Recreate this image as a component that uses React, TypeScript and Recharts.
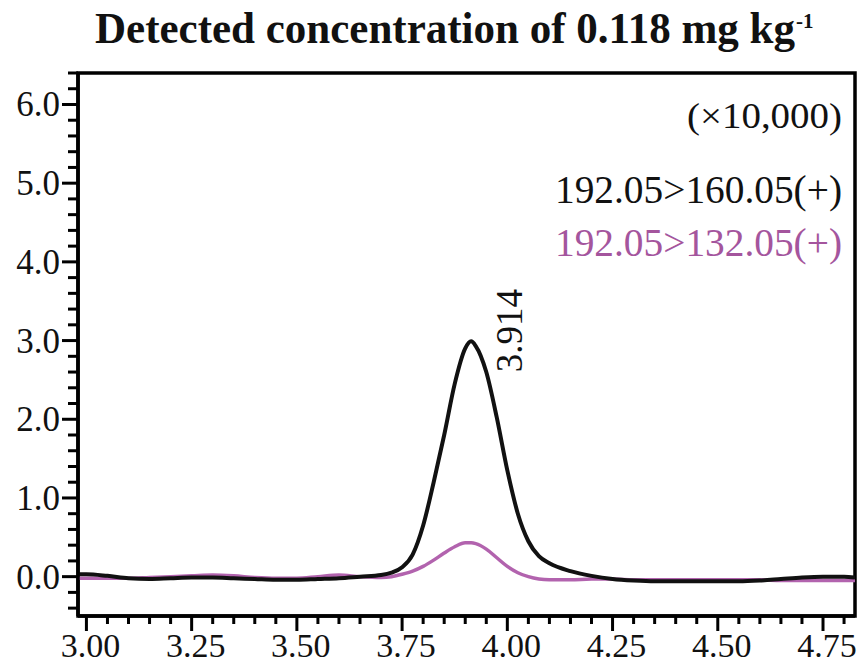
import React from "react";
import { LineChart, Line, XAxis, YAxis, ReferenceArea, ReferenceDot } from "recharts";

// Retention time (min)
const retentionTime = [
  2.98, 3.0, 3.05, 3.1, 3.15, 3.2, 3.25, 3.3, 3.35, 3.4, 3.45, 3.5, 3.55, 3.6, 3.65, 3.7,
  3.725, 3.75, 3.775, 3.8, 3.825, 3.85, 3.875, 3.9, 3.914, 3.925, 3.95, 3.975, 4.0, 4.025,
  4.05, 4.075, 4.1, 4.15, 4.2, 4.25, 4.3, 4.35, 4.4, 4.45, 4.5, 4.55, 4.6, 4.65, 4.7, 4.75,
  4.8, 4.826,
];

// 192.05>160.05(+) intensity (x10,000)
const quantIon = [
  0.03, 0.03, 0.01, -0.02, -0.03, -0.02, -0.01, -0.01, -0.02, -0.03, -0.04, -0.04, -0.03, -0.02, 0.0, 0.02,
  0.05, 0.12, 0.28, 0.65, 1.2, 1.8, 2.45, 2.9, 2.99, 2.93, 2.6, 2.02, 1.35, 0.8,
  0.45, 0.26, 0.17, 0.07, 0.01, -0.03, -0.05, -0.06, -0.06, -0.06, -0.06, -0.06, -0.05, -0.03, -0.01, 0.0,
  0.0, -0.01,
];

// 192.05>132.05(+) intensity (x10,000)
const qualIon = [
  -0.02, -0.02, -0.02, -0.02, -0.01, 0.0, 0.01, 0.02, 0.01, -0.01, -0.02, -0.02, 0.0, 0.02, 0.0, -0.01,
  0.0, 0.03, 0.07, 0.13, 0.21, 0.3, 0.38, 0.43, 0.43, 0.42, 0.35, 0.24, 0.13, 0.05,
  0.0, -0.03, -0.04, -0.04, -0.03, -0.03, -0.04, -0.04, -0.04, -0.04, -0.04, -0.04, -0.04, -0.05, -0.05, -0.05,
  -0.05, -0.05,
];

const xTicks = [
  3.0, 3.05, 3.1, 3.15, 3.2, 3.25, 3.3, 3.35, 3.4, 3.45, 3.5, 3.55, 3.6, 3.65, 3.7, 3.75, 3.8, 3.85, 3.9,
  3.95, 4.0, 4.05, 4.1, 4.15, 4.2, 4.25, 4.3, 4.35, 4.4, 4.45, 4.5, 4.55, 4.6, 4.65, 4.7, 4.75, 4.8,
];
const yTicks = [
  -0.4, -0.2, 0, 0.2, 0.4, 0.6, 0.8, 1, 1.2, 1.4, 1.6, 1.8, 2, 2.2, 2.4, 2.6, 2.8, 3, 3.2, 3.4, 3.6,
  3.8, 4, 4.2, 4.4, 4.6, 4.8, 5, 5.2, 5.4, 5.6, 5.8, 6, 6.2, 6.4,
];

const peakRt = 3.914;
const peakValue = 2.99;
const peakLabel = "3.914";
const title = "Detected concentration of 0.118 mg kg";
const titleSup = "-1";
const scaleNote = "(×10,000)";
const seriesNames = ["192.05>160.05(+)", "192.05>132.05(+)"];

const BLACK = "#111111";
const PURPLE_LINE = "#b263ae";
const PURPLE_TEXT = "#a4559d";
const FONT = "'Liberation Serif', 'Times New Roman', serif";

const data = retentionTime.map((t, i) => ({ rt: t, quant: quantIon[i], qual: qualIon[i] }));

const XTick = (props: any) => {
  const { x, y, payload } = props;
  const v = payload.value as number;
  const major = Math.abs(v * 4 - Math.round(v * 4)) < 1e-6;
  return (
    <g>
      <line x1={x} x2={x} y1={y} y2={y + (major ? 15 : 8)} stroke="#000" strokeWidth={3} />
      {major && (
        <text x={x + 4} y={y + 41} textAnchor="middle" fontSize={34} fontFamily={FONT} fill="#111">
          {v.toFixed(2)}
        </text>
      )}
    </g>
  );
};

const YTick = (props: any) => {
  const { x, y, payload } = props;
  const v = payload.value as number;
  const major = Math.abs(v - Math.round(v)) < 1e-6;
  return (
    <g>
      <line x1={x} x2={x - (major ? 16 : 10)} y1={y} y2={y} stroke="#000" strokeWidth={3} />
      {major && (
        <text x={x - 18} y={y + 12} textAnchor="end" fontSize={35} fontFamily={FONT} fill="#111">
          {v.toFixed(1)}
        </text>
      )}
    </g>
  );
};

const PeakLabel = (props: any) => {
  const vb = props.viewBox || {};
  const cx = (vb.x ?? 0) + (vb.width ?? 0) / 2;
  const cy = (vb.y ?? 0) + (vb.height ?? 0) / 2;
  return (
    <text
      transform={`translate(${cx + 51},${cy + 31}) rotate(-90)`}
      fontSize={37}
      fontFamily={FONT}
      fill="#111"
    >
      {peakLabel}
    </text>
  );
};

export default function App() {
  return (
    <div style={{ position: "absolute", left: 0, top: 0, width: 868, height: 663, background: "#fff" }}>
      <LineChart
        width={868}
        height={663}
        data={data}
        margin={{ top: 73, right: 13, bottom: 0, left: 0 }}
      >
        <XAxis
          dataKey="rt"
          type="number"
          domain={[2.98, 4.826]}
          allowDataOverflow
          ticks={xTicks}
          interval={0}
          tick={<XTick />}
          tickLine={false}
          tickSize={0}
          tickMargin={0}
          height={47}
          axisLine={{ stroke: "#000", strokeWidth: 3.5 }}
        />
        <YAxis
          type="number"
          domain={[-0.5, 6.4]}
          allowDataOverflow
          ticks={yTicks}
          interval={0}
          tick={<YTick />}
          tickLine={false}
          tickSize={0}
          tickMargin={0}
          width={78}
          axisLine={{ stroke: "#000", strokeWidth: 3.5 }}
        />
        <ReferenceArea
          x1={2.98}
          x2={4.826}
          y1={-0.5}
          y2={6.4}
          fill="none"
          fillOpacity={0}
          stroke="#000"
          strokeWidth={3.5}
          ifOverflow="visible"
        />
        <Line
          type="monotone"
          dataKey="qual"
          stroke={PURPLE_LINE}
          strokeWidth={3.5}
          dot={false}
          activeDot={false}
          isAnimationActive={false}
        />
        <Line
          type="monotone"
          dataKey="quant"
          stroke={BLACK}
          strokeWidth={4}
          dot={false}
          activeDot={false}
          isAnimationActive={false}
        />
        <ReferenceDot x={peakRt} y={peakValue} r={0} fill="none" stroke="none" label={<PeakLabel />} />
      </LineChart>
      <svg
        width={868}
        height={663}
        style={{ position: "absolute", left: 0, top: 0, pointerEvents: "none" }}
      >
        <text x={95} y={43} fontWeight="bold" fontFamily={FONT} fill="#111">
          <tspan fontSize={45} textLength={700} lengthAdjust="spacingAndGlyphs">
            {title}
          </tspan>
          <tspan fontSize={21} dx={1} dy={-15}>
            {titleSup}
          </tspan>
        </text>
        <text
          x={687}
          y={128}
          fontSize={36}
          fontFamily={FONT}
          fill="#111"
          textLength={155}
          lengthAdjust="spacingAndGlyphs"
        >
          {scaleNote}
        </text>
        <text
          x={555}
          y={203}
          fontSize={39}
          fontFamily={FONT}
          fill="#111"
          textLength={287}
          lengthAdjust="spacingAndGlyphs"
        >
          {seriesNames[0]}
        </text>
        <text
          x={555}
          y={256}
          fontSize={39}
          fontFamily={FONT}
          fill={PURPLE_TEXT}
          textLength={287}
          lengthAdjust="spacingAndGlyphs"
        >
          {seriesNames[1]}
        </text>
      </svg>
    </div>
  );
}
